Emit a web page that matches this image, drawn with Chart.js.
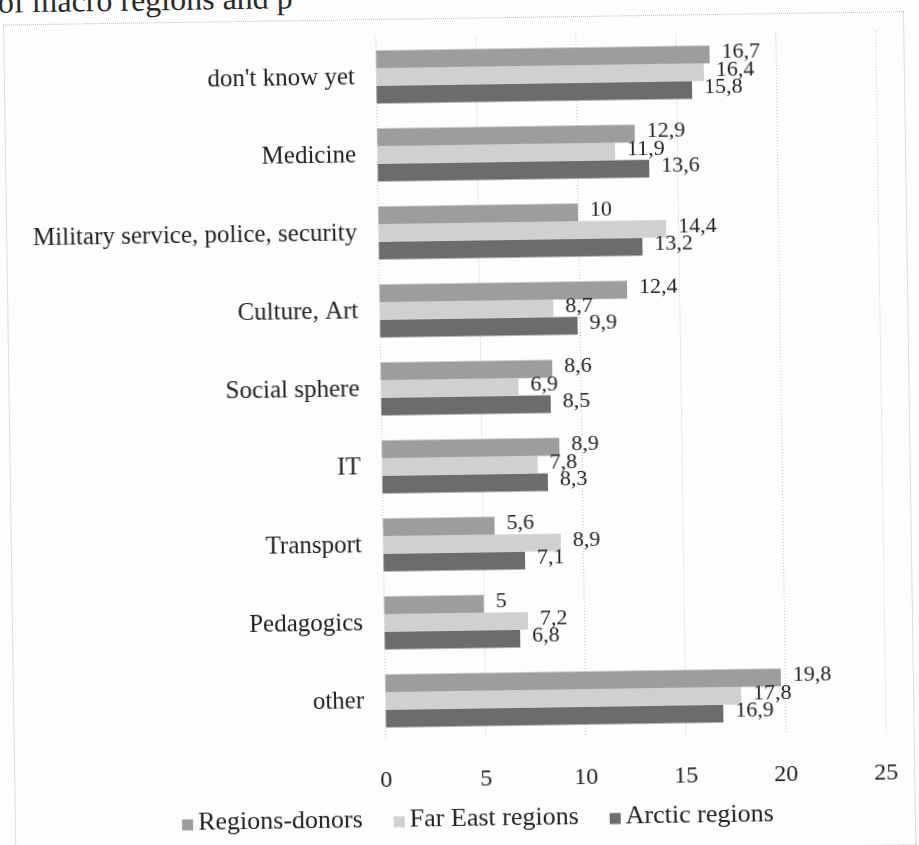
<!DOCTYPE html>
<html>
<head>
<meta charset="utf-8">
<script src="https://cdn.jsdelivr.net/npm/chart.js@4"></script>
<style>
  html, body { margin: 0; padding: 0; background: #fdfdfd; }
  body { width: 919px; height: 845px; position: relative; overflow: hidden; font-family: "Liberation Serif", serif; }
  #page { position: absolute; left: 0; top: 0; width: 919px; height: 845px; transform: rotate(-0.85deg); transform-origin: 381px 422px; }
  #cap { position: absolute; left: 4px; top: -22px; font-size: 32px; color: #2a2a2a; white-space: nowrap; }
  #frame { position: absolute; left: 9px; top: 19px; width: 899px; height: 832px; border: 1px dotted #bdbdbd; }
  #wrap { position: absolute; left: 0; top: 0; width: 919px; height: 845px; }
</style>
</head>
<body>
<div id="page">
<div id="cap">of macro regions and p</div>
<div id="frame"></div>
<div id="wrap"><canvas id="c" width="919" height="845"></canvas></div>
</div>
<script>
const categories = ["don't know yet", "Medicine", "Military service, police, security", "Culture, Art", "Social sphere", "IT", "Transport", "Pedagogics", "other"];
const regionsDonors = [16.7, 12.9, 10, 12.4, 8.6, 8.9, 5.6, 5, 19.8];
const farEastRegions = [16.4, 11.9, 14.4, 8.7, 6.9, 7.8, 8.9, 7.2, 17.8];
const arcticRegions = [15.8, 13.6, 13.2, 9.9, 8.5, 8.3, 7.1, 6.8, 16.9];
const xTicks = [0, 5, 10, 15, 20, 25];
const seriesColors = ['#9d9d9d', '#d0d0d0', '#6c6c6c'];

const fmt = v => String(v).replace('.', ',');

const dataLabels = {
  id: 'dataLabels',
  afterDatasetsDraw(chart) {
    const ctx = chart.ctx;
    ctx.save();
    ctx.font = '22px "Liberation Serif", serif';
    ctx.fillStyle = '#222';
    ctx.textAlign = 'left';
    ctx.textBaseline = 'middle';
    chart.data.datasets.forEach((ds, di) => {
      const meta = chart.getDatasetMeta(di);
      meta.data.forEach((bar, i) => {
        ctx.fillText(fmt(ds.data[i]), bar.x + 12, bar.y - 2);
      });
    });
    ctx.restore();
  }
};

// legend drawn from the datasets' labels and colours
const bottomLegend = {
  id: 'bottomLegend',
  afterDraw(chart) {
    const ctx = chart.ctx;
    const box = 11, gapText = 5, gapItem = 31;
    ctx.save();
    ctx.font = '26px "Liberation Serif", serif';
    ctx.textBaseline = 'middle';
    ctx.textAlign = 'left';
    const items = chart.data.datasets.map(ds => ({ text: ds.label, color: ds.backgroundColor, w: ctx.measureText(ds.label).width }));
    const total = items.reduce((s, it) => s + box + gapText + it.w, 0) + gapItem * (items.length - 1);
    let x = 472 - total / 2;
    const y = 820;
    items.forEach(it => {
      ctx.fillStyle = it.color;
      ctx.fillRect(x, y - box / 2 + 2, box, box);
      ctx.fillStyle = '#222';
      ctx.fillText(it.text, x + box + gapText, y);
      x += box + gapText + it.w + gapItem;
    });
    ctx.restore();
  }
};

new Chart(document.getElementById('c'), {
  type: 'bar',
  data: {
    labels: categories,
    datasets: [
      { label: 'Regions-donors', data: regionsDonors, backgroundColor: seriesColors[0] },
      { label: 'Far East regions', data: farEastRegions, backgroundColor: seriesColors[1] },
      { label: 'Arctic regions', data: arcticRegions, backgroundColor: seriesColors[2] }
    ]
  },
  options: {
    indexAxis: 'y',
    responsive: false,
    animation: false,
    categoryPercentage: 0.68,
    barPercentage: 1.0,
    layout: { padding: { left: 0, right: 34, top: 38, bottom: 45 } },
    scales: {
      x: {
        min: 0, max: 25,
        afterBuildTicks(scale) { scale.ticks = xTicks.map(v => ({ value: v })); },
        grid: { color: '#c4c4c4', lineWidth: 1, drawTicks: false },
        border: { display: false, dash: [1, 2] },
        ticks: { color: '#222', font: { family: '"Liberation Serif", serif', size: 24 }, padding: 26 },
        afterFit(scale) { scale.height = 60; }
      },
      y: {
        grid: { display: false },
        border: { display: false },
        ticks: { color: '#222', font: { family: '"Liberation Serif", serif', size: 25 }, padding: 13 },
        afterFit(scale) { scale.width = 381; }
      }
    },
    plugins: {
      legend: { display: false },
      tooltip: { enabled: false }
    }
  },
  plugins: [dataLabels, bottomLegend]
});
</script>
</body>
</html>
